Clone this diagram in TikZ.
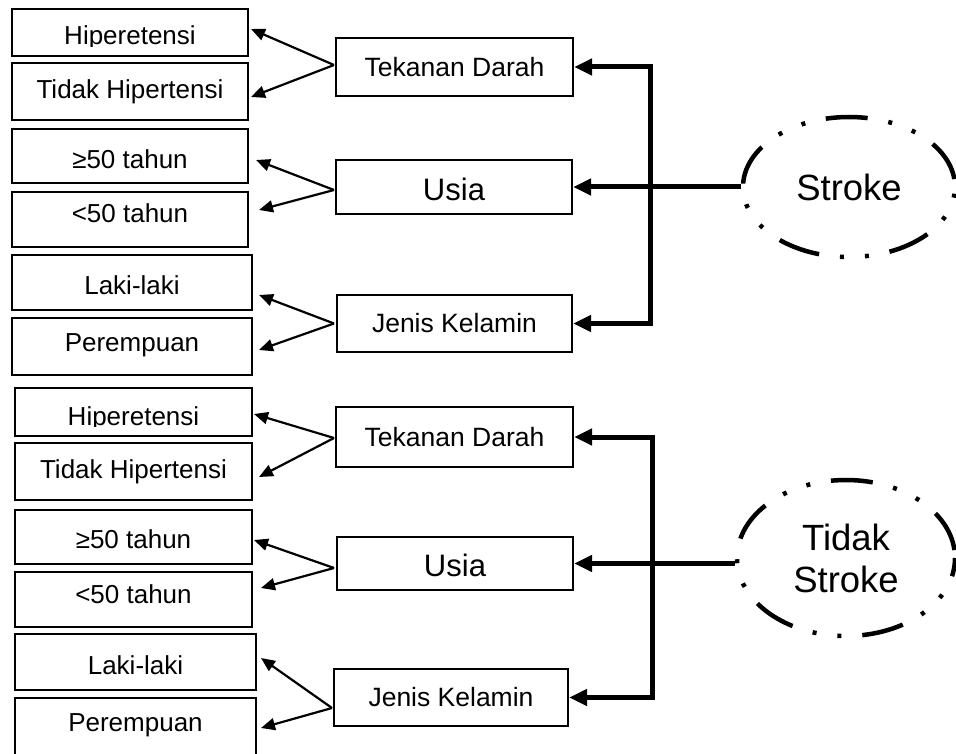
\documentclass[tikz,border=0pt]{standalone}
\usepackage{fontspec}
\setmainfont{Liberation Sans}
\usetikzlibrary{arrows.meta,shapes.geometric}
\newcommand{\vsh}[2]{\raisebox{#1}[\height][\depth]{#2}}
\begin{document}
\begin{tikzpicture}[x=1pt,y=-1pt,
  box/.style 2 args={draw,line width=2pt,inner sep=0pt,minimum width=#1pt,minimum height=#2pt,font=\fontsize{26}{31}\selectfont},
  midbox/.style 2 args={draw,line width=2pt,inner sep=0pt,minimum width=#1pt,minimum height=#2pt,font=\fontsize{26.5}{31}\selectfont},
  lbl/.style={anchor=base,inner sep=0pt,font=\fontsize{26}{31}\selectfont},
  oval/.style 2 args={draw,ellipse,line width=4.5pt,inner sep=0pt,minimum width=#1pt,minimum height=#2pt,
     dash pattern=on 42pt off 21pt on 4pt off 21pt on 4pt off 21pt,dash phase=105pt,
     align=center,font=\fontsize{36.5}{42}\selectfont},
  thinarr/.style={line width=2.2pt,-{Triangle[length=14pt,width=12pt]}},
  thk/.style={line width=5pt,line join=miter,{Triangle[length=18pt,width=16pt]}-{Triangle[length=18pt,width=16pt]}},
  thkone/.style={line width=5pt,-{Triangle[length=18pt,width=16pt]}}
]
\useasboundingbox (0,0) rectangle (956,754);
\fill[white] (0,0) rectangle (956,754);

% ---------- top half ----------
\node[box={236}{47}] (t1) at (130,32.5) {};
\begin{scope}
  \clip (12,9) rectangle (248,46.5);
  \node[lbl] (t1txt) at (130,45) {Hiperetensi};
\end{scope}
\node[box={236}{57}] (t2) at (130,91.5) {Tidak Hipertensi};
\node[box={236}{54}] (t3) at (130,156) {\vsh{-3.5pt}{≥50 tahun}};
\node[box={236}{55}] (t4) at (130,219.5) {\vsh{6pt}{<50 tahun}};
\node[box={240}{55}] (t5) at (132,282.5) {\vsh{-2.5pt}{Laki-laki}};
\node[box={240}{57}] (t6) at (132,346.5) {\vsh{1.5pt}{Perempuan}};

\node[midbox={237}{58}] (tm1) at (454.5,67) {Tekanan Darah};
\node[midbox={236}{54},font=\fontsize{31}{36}\selectfont] (tm2) at (454,187) {\vsh{-2pt}{Usia}};
\node[midbox={235}{57}] (tm3) at (454.5,323.5) {Jenis Kelamin};

\node[oval={212}{140}] (e1) at (849,187) {Stroke};

\coordinate (c1) at ([shift={(-1,-2)}]tm1.west);
\coordinate (c2) at ([shift={(-1,3)}]tm2.west);
\coordinate (c3) at ([shift={(-2,0)}]tm3.west);
\draw[thinarr] (c1) -- ([shift={(2,-3.5)}]t1.east);
\draw[thinarr] (c1) -- ([shift={(2,5.5)}]t2.east);
\draw[thinarr] (c2) -- ([shift={(7,4)}]t3.east);
\draw[thinarr] (c2) -- ([shift={(10,-9.5)}]t4.east);
\draw[thinarr] (c3) -- ([shift={(6,12.5)}]t5.east);
\draw[thinarr] (c3) -- ([shift={(6,3.5)}]t6.east);

\coordinate (s1) at (650,0);
\draw[thk] (tm1.east) -- (s1 |- tm1.east) -- (s1 |- tm3.east) -- (tm3.east);
\draw[thkone] (e1.west |- tm2.east) -- (tm2.east);

% ---------- bottom half ----------
\node[box={237}{48}] (b1) at (133.5,412) {};
\begin{scope}
  \clip (15,388) rectangle (252,426.5);
  \node[lbl] (b1txt) at (133.5,425) {Hiperetensi};
\end{scope}
\node[box={237}{57}] (b2) at (133.5,471.5) {Tidak Hipertensi};
\node[box={237}{54}] (b3) at (133.5,537) {\vsh{-2.5pt}{≥50 tahun}};
\node[box={237}{55}] (b4) at (133.5,599.5) {\vsh{5pt}{<50 tahun}};
\node[box={241}{56}] (b5) at (135.5,662) {\vsh{-3pt}{Laki-laki}};
\node[box={241}{59}] (b6) at (135.5,727.5) {\vsh{2.5pt}{Perempuan}};

\node[midbox={237}{60}] (bm1) at (454.5,437) {Tekanan Darah};
\node[midbox={236}{53},font=\fontsize{31}{36}\selectfont] (bm2) at (455,563.5) {\vsh{-2pt}{Usia}};
\node[midbox={234}{57}] (bm3) at (451,697.5) {Jenis Kelamin};

\node[oval={218}{156}] (e2) at (846,558) {Tidak\\Stroke};

\coordinate (d1) at ([shift={(-1,1)}]bm1.west);
\coordinate (d2) at ([shift={(-2,4.5)}]bm2.west);
\coordinate (d3) at ([shift={(-1,10.5)}]bm3.west);
\draw[thinarr] (d1) -- ([shift={(1,2)}]b1.east);
\draw[thinarr] (d1) -- ([shift={(6,5.5)}]b2.east);
\draw[thinarr] (d2) -- ([shift={(1,3)}]b3.east);
\draw[thinarr] (d2) -- ([shift={(8,-11.5)}]b4.east);
\draw[thinarr] (d3) -- ([shift={(4,-4)}]b5.east);
\draw[thinarr] (d3) -- ([shift={(4,0.5)}]b6.east);

\coordinate (s2) at (652,0);
\draw[thk] (bm1.east) -- (s2 |- bm1.east) -- (s2 |- bm3.east) -- (bm3.east);
\draw[thkone] (e2.west |- bm2.east) -- (bm2.east);
\end{tikzpicture}
\end{document}
